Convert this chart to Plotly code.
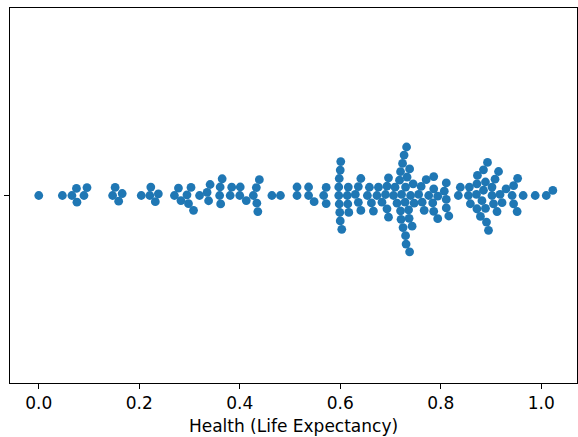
import numpy as np
import plotly.graph_objects as go

# Health (Life Expectancy) values
health_low = [0.000, 0.047, 0.066, 0.075, 0.076, 0.090, 0.096,
              0.147, 0.152, 0.159, 0.166,
              0.204, 0.221, 0.223, 0.232, 0.238,
              0.270, 0.278, 0.283, 0.295, 0.298, 0.303, 0.308, 0.320,
              0.335, 0.338, 0.341, 0.360, 0.361, 0.362, 0.365,
              0.381, 0.384, 0.400, 0.401, 0.413, 0.427, 0.433, 0.434, 0.436, 0.439]
health_mid = [0.464, 0.481, 0.514, 0.514, 0.537, 0.537, 0.548, 0.567, 0.572, 0.572,
              0.597, 0.597, 0.598, 0.598, 0.599, 0.600, 0.600, 0.601, 0.603,
              0.614, 0.615, 0.616, 0.617,
              0.630, 0.636, 0.636, 0.641, 0.641, 0.654, 0.658, 0.662, 0.666, 0.673, 0.676,
              0.683, 0.690, 0.693, 0.693, 0.696, 0.696, 0.706, 0.709, 0.713, 0.718,
              0.720, 0.720, 0.721, 0.722, 0.724, 0.725, 0.727, 0.729, 0.730, 0.730, 0.731,
              0.732, 0.733, 0.736, 0.737, 0.738, 0.738, 0.740, 0.743, 0.745, 0.747]
health_high = [0.756, 0.761, 0.763, 0.767, 0.771, 0.776, 0.784, 0.786, 0.786, 0.786,
               0.794, 0.794, 0.807, 0.811, 0.811, 0.811, 0.816,
               0.835, 0.839, 0.855, 0.857, 0.859, 0.871, 0.872, 0.872, 0.873, 0.879,
               0.882, 0.885, 0.885, 0.889, 0.889, 0.891, 0.893, 0.895, 0.902, 0.902,
               0.905, 0.908, 0.912, 0.915, 0.918, 0.922, 0.930, 0.942, 0.945, 0.945,
               0.952, 0.953, 0.964, 0.988, 1.010, 1.023]
health = np.array(health_low + health_mid + health_high)

tick_vals = [0.0, 0.2, 0.4, 0.6, 0.8, 1.0]
tick_text = ["0.0", "0.2", "0.4", "0.6", "0.8", "1.0"]

# layout geometry (pixels)
W, H = 578, 437
ML, MR, MT, MB = 10, 1, 8, 54
PX_PER_UNIT = 502.5
X0_PX = 38.75
plot_w = W - ML - MR
plot_h = H - MT - MB
x_lo = (ML - X0_PX) / PX_PER_UNIT
x_hi = x_lo + plot_w / PX_PER_UNIT
D = 8.1  # marker spacing diameter in px used for swarm layout


def beeswarm(values, d):
    xs = np.asarray(values) * PX_PER_UNIT
    order = np.argsort(xs, kind="stable")
    offs = np.zeros(len(xs))
    placed = []
    for idx in order:
        x = xs[idx]
        nbrs = [(o, xj) for (o, xj) in placed if abs(x - xj) < d]
        cands = [0.0]
        left_first = True
        for (o, xj) in nbrs:
            dx = x - xj
            dy = np.sqrt(max(d * d - dx * dx, 0.0)) * 1.05
            pair = [o - dy, o + dy] if left_first else [o + dy, o - dy]
            cands.extend(pair)
            left_first = not left_first
        cands = sorted(cands, key=abs)
        chosen = cands[-1]
        for c in cands:
            if all((c - o) ** 2 + (x - xj) ** 2 >= d * d - 1e-9 for (o, xj) in nbrs):
                chosen = c
                break
        offs[idx] = chosen
        placed.append((chosen, x))
    return offs


offsets = beeswarm(health, D)

fig = go.Figure()
fig.add_trace(go.Scatter(
    x=health, y=offsets, mode="markers",
    marker=dict(color="#1f77b4", size=8.8, line=dict(width=0)),
    hoverinfo="x", showlegend=False,
))

font = dict(family="DejaVu Sans", size=17, color="black")
fig.update_layout(
    width=W, height=H,
    margin=dict(l=ML, r=MR, t=MT, b=MB, pad=0),
    paper_bgcolor="white", plot_bgcolor="white",
    font=font,
    xaxis=dict(
        range=[x_lo, x_hi], tickvals=tick_vals, ticktext=tick_text,
        ticks="outside", ticklen=5, tickwidth=1, tickcolor="black",
        showline=True, linecolor="black", linewidth=1, mirror=True,
        showgrid=False, zeroline=False, tickfont=font,
        title=dict(text="Health (Life Expectancy)", font=font, standoff=7),
    ),
    yaxis=dict(
        range=[plot_h / 2, -plot_h / 2], tickvals=[0], showticklabels=False,
        ticks="outside", ticklen=5, tickwidth=1, tickcolor="black",
        showline=True, linecolor="black", linewidth=1, mirror=True,
        showgrid=False, zeroline=False,
    ),
)

fig.write_html("out.html")
